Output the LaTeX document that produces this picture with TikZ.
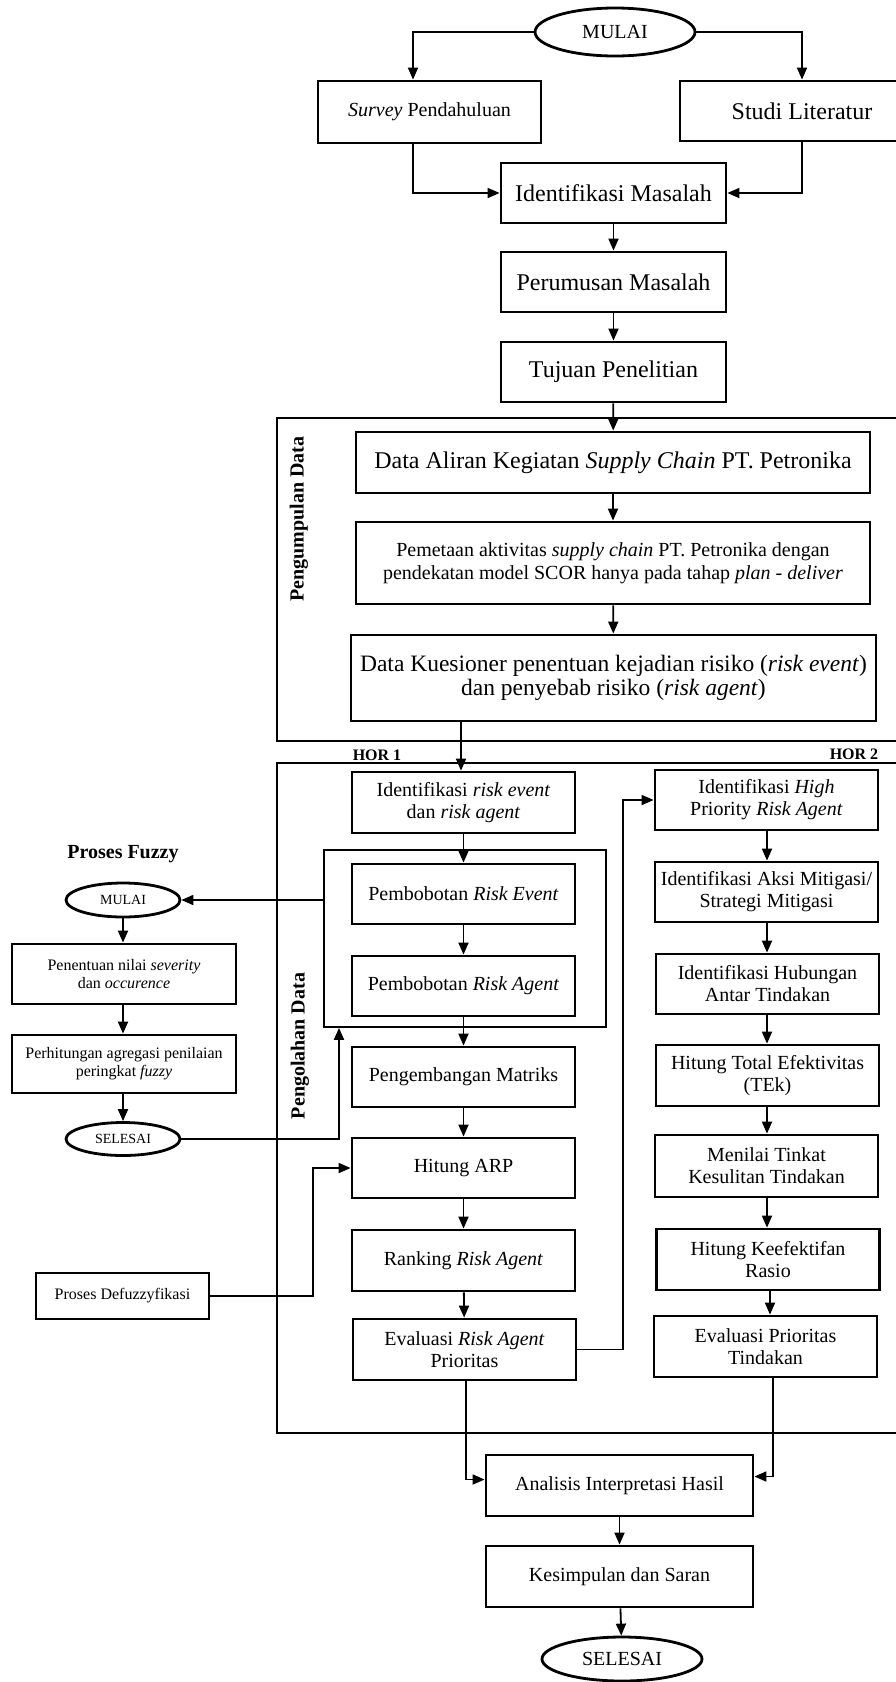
\documentclass[tikz,border=0pt]{standalone}
\usepackage{fontspec}
\setmainfont{Liberation Serif}
\usetikzlibrary{arrows.meta,shapes.geometric}
\begin{document}
\begin{tikzpicture}[x=1pt,y=-1pt,
  box/.style={draw, line width=2.8pt, rectangle, align=center, inner sep=0pt, minimum width=223pt, minimum height=60pt, font=\fontsize{20}{22}\selectfont},
  bigtxt/.style={font=\fontsize{24}{24}\selectfont},
  smalltxt/.style={font=\fontsize{16}{18}\selectfont},
  oval/.style={draw, ellipse, line width=2.8pt, inner sep=0pt, font=\fontsize{20}{22}\selectfont},
  frame/.style={draw, line width=1.7pt, rectangle, inner sep=0pt},
  conn/.style={line width=1.8pt},
  arr/.style={conn, -{Triangle[length=12pt,width=10pt]}},
  vlbl/.style={font=\bfseries\fontsize{20}{22}\selectfont, rotate=90},
  hlbl/.style={font=\bfseries\fontsize{16}{18}\selectfont},
]
\useasboundingbox (0,0) rectangle (896,1682);
\clip (0,0) rectangle (896,1682);
\fill[white] (0,0) rectangle (896,1682);

% frames
\node[frame, minimum width=660pt, minimum height=323pt] (frame1) at (607,579.5) {};
\node[frame, minimum width=660pt, minimum height=670pt] (frame2) at (607,1098) {};
\node[frame, minimum width=282pt, minimum height=177pt] (grp) at (465,938.5) {};

% top part
\node[oval, minimum width=160pt, minimum height=48pt] (mulai) at (615,32) {MULAI};
\node[box, minimum width=223pt, minimum height=62pt] (survey) at (429.5,112) {\textit{Survey} Pendahuluan};
\node[box, bigtxt, minimum width=244pt] (studi) at (802,111) {Studi Literatur};
\node[box, bigtxt, minimum width=225pt] (identm) at (613.5,193) {Identifikasi Masalah};
\node[box, bigtxt, minimum width=225pt] (perumusan) at (613.5,282) {Perumusan Masalah};
\node[box, bigtxt, minimum width=225pt] (tujuan) at (613.5,372) {Tujuan Penelitian};

% pengumpulan data
\node[vlbl] (lblkumpul) at (299,519) {Pengumpulan Data};
\node[box, bigtxt, minimum width=514pt, minimum height=61pt] (aliran) at (613,462.5) {Data Aliran Kegiatan \textit{Supply Chain} PT. Petronika};
\node[box, font=\fontsize{20}{23}\selectfont, minimum width=514pt, minimum height=82pt] (pemetaan) at (613,563) {Pemetaan aktivitas \textit{supply chain} PT. Petronika dengan\\pendekatan model SCOR hanya pada tahap \textit{plan - deliver}};
\node[box, font=\fontsize{23.5}{24}\selectfont, minimum width=525pt, minimum height=86pt] (kuesioner) at (613.5,678) {Data Kuesioner penentuan kejadian risiko (\textit{risk event})\\dan penyebab risiko (\textit{risk agent})};

% pengolahan data
\node[hlbl] (hor1) at (377,755) {HOR 1};
\node[hlbl] (hor2) at (854,754) {HOR 2};
\node[vlbl] (lblolah) at (300,1046) {Pengolahan Data};

\node[box, minimum height=61pt] (identre) at (463.5,802.5) {Identifikasi \textit{risk event}\\dan \textit{risk agent}};
\node[box] (pbre) at (463.5,894) {Pembobotan \textit{Risk Event}};
\node[box] (pbra) at (463.5,986) {Pembobotan \textit{Risk Agent}};
\node[box] (matriks) at (463.5,1077) {Pengembangan Matriks};
\node[box] (arp) at (463.5,1168) {Hitung ARP};
\node[box, minimum height=61pt] (ranking) at (463.5,1260.5) {Ranking \textit{Risk Agent}};
\node[box, minimum height=61pt] (evalra) at (464.5,1349.5) {Evaluasi \textit{Risk Agent}\\Prioritas};

\node[box] (hp) at (766.5,800) {Identifikasi \textit{High}\\Priority \textit{Risk Agent}};
\node[box] (aksi) at (766.5,892) {Identifikasi Aksi Mitigasi/\\Strategi Mitigasi};
\node[box] (hub) at (767.5,984) {Identifikasi Hubungan\\Antar Tindakan};
\node[box, minimum height=61pt] (tek) at (767.5,1075.5) {Hitung Total Efektivitas\\(TEk)};
\node[box, minimum height=62pt] (menilai) at (766.5,1166) {Menilai Tinkat\\Kesulitan Tindakan};
\node[box, minimum height=61pt] (keef) at (768,1259.5) {Hitung Keefektifan\\Rasio};
\node[box, minimum height=61pt] (evalprio) at (765.5,1346.5) {Evaluasi Prioritas\\Tindakan};

% fuzzy
\node[font=\bfseries\fontsize{20}{22}\selectfont] (pfuzzy) at (123,854) {Proses Fuzzy};
\node[oval, font=\fontsize{14}{16}\selectfont, minimum width=114pt, minimum height=34pt] (fmulai) at (123,900) {MULAI};
\node[box, smalltxt, minimum width=224pt, minimum height=60pt] (penentuan) at (124,974) {Penentuan nilai \textit{severity}\\dan \textit{occurence}};
\node[box, smalltxt, minimum width=224pt, minimum height=58pt] (perhitungan) at (124,1064) {Perhitungan agregasi penilaian\\peringkat \textit{fuzzy}};
\node[oval, font=\fontsize{14}{16}\selectfont, minimum width=114pt, minimum height=33pt] (fselesai) at (123,1139) {SELESAI};
\node[box, smalltxt, minimum width=173pt, minimum height=46pt] (defuzz) at (122.5,1296) {Proses Defuzzyfikasi};

% bottom
\node[box, minimum width=267pt, minimum height=61pt] (analisis) at (619.5,1485.5) {Analisis Interpretasi Hasil};
\node[box, minimum width=267pt, minimum height=61pt] (kesimpulan) at (619.5,1576.5) {Kesimpulan dan Saran};
\node[oval, minimum width=160pt, minimum height=44pt] (selesai) at (622,1659) {SELESAI};

% connectors top
\coordinate (sv) at (413,0);
\draw[arr] (mulai.west) -| (sv |- survey.north);
\draw[arr] (mulai.east) -| (studi.north);
\draw[arr] (sv |- survey.south) |- (identm.west);
\draw[arr] (studi.south) |- (identm.east);
\draw[arr] (identm) -- (perumusan);
\draw[arr] (perumusan) -- (tujuan);
\draw[arr] (tujuan) -- (aliran);
\draw[arr] (aliran) -- (pemetaan);
\draw[arr] (pemetaan) -- (kuesioner);
\draw[arr] (kuesioner.south -| 461,0) -- (identre.north -| 461,0);

% left column
\draw[arr] (identre) -- (pbre);
\draw[arr] (pbre) -- (pbra);
\draw[arr] (pbra) -- (matriks);
\draw[arr] (matriks) -- (arp);
\draw[arr] (arp) -- (ranking);
\draw[arr] (ranking) -- (evalra);
\coordinate (cx) at (623,0);
\draw[arr] (evalra.east) -| (cx |- hp.west) -- (hp.west);

% right column
\draw[arr] (hp.south -| 767,0) -- (aksi.north -| 767,0);
\draw[arr] (aksi.south -| 767,0) -- (hub.north -| 767,0);
\draw[arr] (hub.south -| 767,0) -- (tek.north -| 767,0);
\draw[arr] (tek.south -| 767,0) -- (menilai.north -| 767,0);
\draw[arr] (menilai.south -| 767,0) -- (keef.north -| 767,0);
\draw[arr] (keef.south -| 770,0) -- (evalprio.north -| 770,0);

% fuzzy connectors
\coordinate (fx) at (123,0);
\draw[arr] (grp.west |- fmulai.east) -- (fmulai.east);
\draw[arr] (fmulai) -- (fx |- penentuan.north);
\draw[arr] (fx |- penentuan.south) -- (fx |- perhitungan.north);
\draw[arr] (fx |- perhitungan.south) -- (fselesai);
\coordinate (gx) at (339,0);
\draw[arr] (fselesai.east) -| (gx |- grp.south);
\coordinate (dx) at (313,0);
\draw[arr] (defuzz.east) -| (dx |- arp.west) -- (arp.west);

% bottom connectors
\coordinate (ex) at (466,0);
\coordinate (px) at (773,0);
\draw[arr] (ex |- evalra.south) |- ([yshift=6pt]analisis.west);
\draw[arr] (px |- evalprio.south) |- ([yshift=9pt]analisis.east);
\draw[arr] (analisis) -- (kesimpulan);
\draw[arr] (kesimpulan) -- (selesai);
\end{tikzpicture}
\end{document}
